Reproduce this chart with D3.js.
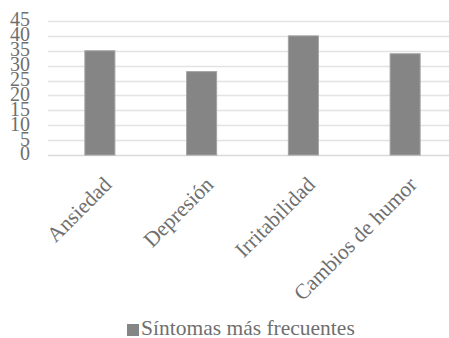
<!DOCTYPE html>
<html>
<head>
<meta charset="utf-8">
<script src="https://cdn.jsdelivr.net/npm/d3@7"></script>
<style>
  html, body { margin: 0; padding: 0; background: #fff; }
  svg { display: block; }
  text { font-family: "Liberation Serif", "DejaVu Serif", serif; fill: #6f6f6f; }
</style>
</head>
<body>
<svg id="chart" width="449" height="338"></svg>
<script>
// Symptom categories and how often each was reported
const categories = ["Ansiedad", "Depresión", "Irritabilidad", "Cambios de humor"];
const values = [35, 28, 40, 34];
const yTicks = [0, 5, 10, 15, 20, 25, 30, 35, 40, 45];
const seriesName = "Síntomas más frecuentes";

const svg = d3.select("#chart");
const W = 449;

const y = d3.scaleLinear().domain([0, 45]).range([155, 21]);
const x = d3.scaleBand()
  .domain(categories)
  .range([49, 456])
  .paddingInner(0.695)
  .paddingOuter(0.3475);

// horizontal gridlines
svg.append("g")
  .selectAll("line")
  .data(yTicks)
  .join("line")
  .attr("x1", 48).attr("x2", W)
  .attr("y1", d => Math.round(y(d)) + 0.5)
  .attr("y2", d => Math.round(y(d)) + 0.5)
  .attr("stroke", d => d === 0 ? "#d9d9d9" : "#e3e3e3")
  .attr("stroke-width", 1.5);

// y tick labels (tightly packed, as in the original layout)
svg.append("g")
  .selectAll("text")
  .data(yTicks)
  .join("text")
  .attr("x", 30)
  .attr("y", d => y(d))
  .attr("dy", "0.27em")
  .attr("text-anchor", "end")
  .style("font-size", "20px")
  .text(d => d);

// bars
svg.append("g")
  .selectAll("rect")
  .data(values)
  .join("rect")
  .attr("x", (d, i) => x(categories[i]) + 0.5)
  .attr("y", d => y(d))
  .attr("width", x.bandwidth() - 1)
  .attr("height", d => y(0) - y(d))
  .attr("fill", "#858585")
  .attr("stroke", "#a3a3a3")
  .attr("stroke-width", 1);

// rotated category labels
svg.append("g")
  .selectAll("text")
  .data(categories)
  .join("text")
  .attr("transform", d => {
    const cx = x(d) + x.bandwidth() / 2 + 13;
    return `translate(${cx},${186}) rotate(-45)`;
  })
  .attr("text-anchor", "end")
  .style("font-size", "21.5px")
  .text(d => d);

// legend
const legend = svg.append("g");
legend.append("rect")
  .attr("x", 127).attr("y", 324)
  .attr("width", 12).attr("height", 12)
  .attr("fill", "#858585");
legend.append("text")
  .attr("x", 141).attr("y", 335)
  .style("font-size", "21.5px")
  .text(seriesName);
</script>
</body>
</html>
